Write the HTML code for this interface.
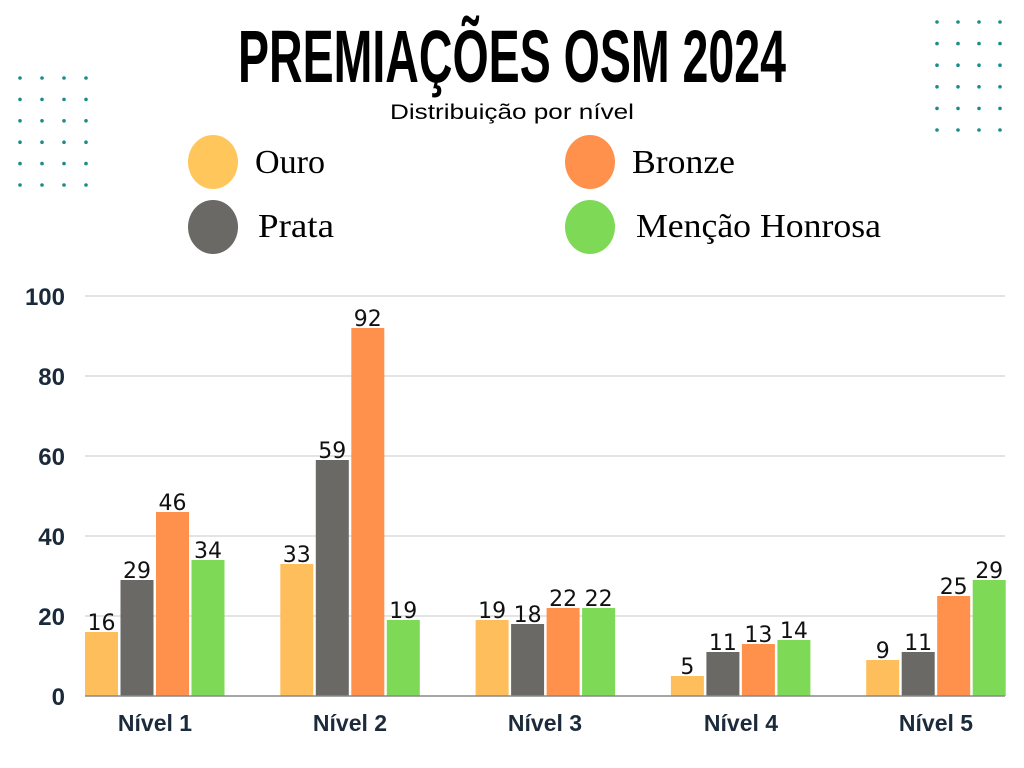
<!DOCTYPE html>
<html><head><meta charset="utf-8"><style>
html,body{margin:0;padding:0;background:#fff;}
svg{display:block;}
</style></head><body>
<svg width="1024" height="768" viewBox="0 0 1024 768" xmlns="http://www.w3.org/2000/svg">
<rect width="1024" height="768" fill="#fff"/>
<g fill="#1a8c8c" id="dots">
</g>
<text x="512" y="82" text-anchor="middle" font-family="Liberation Sans Narrow, Liberation Sans, sans-serif" font-weight="bold" font-size="74" textLength="548" lengthAdjust="spacingAndGlyphs" fill="#000">PREMIAÇÕES OSM 2024</text>
<text x="512" y="119" text-anchor="middle" font-family="Liberation Sans, sans-serif" font-size="21" fill="#000" textLength="244" lengthAdjust="spacingAndGlyphs">Distribuição por nível</text>
<ellipse cx="213" cy="162" rx="25" ry="27" fill="#FFC65C"/>
<ellipse cx="590" cy="162" rx="25" ry="27" fill="#FF914D"/>
<ellipse cx="213" cy="227" rx="25" ry="27" fill="#6B6966"/>
<ellipse cx="590" cy="227" rx="25" ry="27" fill="#7ED957"/>
<g font-family="Liberation Serif, serif" font-size="34" fill="#000" lengthAdjust="spacingAndGlyphs">
<text x="255" y="173" textLength="70" lengthAdjust="spacingAndGlyphs">Ouro</text>
<text x="632" y="173" textLength="103" lengthAdjust="spacingAndGlyphs">Bronze</text>
<text x="258" y="237" textLength="76" lengthAdjust="spacingAndGlyphs">Prata</text>
<text x="636" y="237" textLength="245" lengthAdjust="spacingAndGlyphs">Menção Honrosa</text>
</g>
<g stroke="#d3d3d3" stroke-width="1.2">
<line x1="85" y1="296" x2="1005" y2="296"/>
<line x1="85" y1="376" x2="1005" y2="376"/>
<line x1="85" y1="456" x2="1005" y2="456"/>
<line x1="85" y1="536" x2="1005" y2="536"/>
<line x1="85" y1="616" x2="1005" y2="616"/>
</g>
<g font-family="Liberation Sans, sans-serif" font-size="24" font-weight="bold" fill="#1a2a3a" text-anchor="end">
<text x="65" y="305">100</text><text x="65" y="385">80</text><text x="65" y="465">60</text>
<text x="65" y="545">40</text><text x="65" y="625">20</text><text x="65" y="705">0</text>
</g>
<g id="bars"></g>
<line x1="85" y1="696" x2="1005" y2="696" stroke="#888" stroke-width="1.5"/>
<g font-family="Liberation Sans, sans-serif" font-size="23" font-weight="bold" fill="#1c2b3c" text-anchor="middle">
<text x="155" y="731">Nível 1</text><text x="350" y="731">Nível 2</text><text x="545" y="731">Nível 3</text><text x="741" y="731">Nível 4</text><text x="936" y="731">Nível 5</text>
</g>
<script>
var ns="http://www.w3.org/2000/svg";
var d=document.getElementById("dots");
function dot(x,y){var c=document.createElementNS(ns,"circle");c.setAttribute("cx",x);c.setAttribute("cy",y);c.setAttribute("r",1.8);d.appendChild(c);}
for(var i=0;i<4;i++)for(var j=0;j<6;j++){dot(20+i*22,78+j*21.4);dot(937+i*21,22+j*21.6);}
var data=[[16,29,46,34],[33,59,92,19],[19,18,22,22],[5,11,13,14],[9,11,25,29]];
var col=["#FFBE5C","#6B6966","#FF914D","#7ED957"];
var b=document.getElementById("bars");
for(var g=0;g<5;g++)for(var k=0;k<4;k++){
 var v=data[g][k],x=85+g*195.3+k*35.5,h=v*4;
 var r=document.createElementNS(ns,"rect");r.setAttribute("x",x);r.setAttribute("y",696-h);r.setAttribute("width",33);r.setAttribute("height",h);r.setAttribute("fill",col[k]);b.appendChild(r);
 var t=document.createElementNS(ns,"text");t.setAttribute("x",x+16.5);t.setAttribute("y",696-h-2);t.setAttribute("text-anchor","middle");t.setAttribute("font-family","DejaVu Sans, sans-serif");t.setAttribute("font-size","22");t.setAttribute("fill","#111");t.textContent=v;b.appendChild(t);
}
</script>
</svg>
</body></html>
